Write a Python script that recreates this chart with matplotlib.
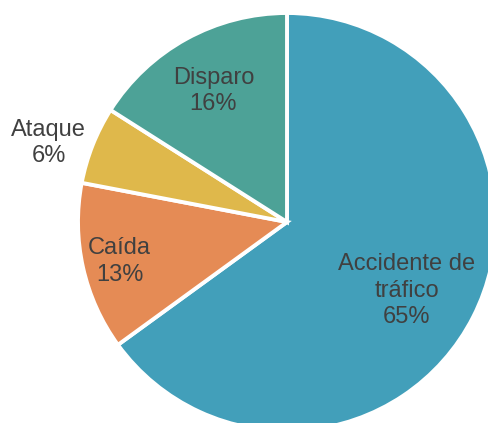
import numpy as np
import matplotlib.pyplot as plt

categories = ['Accidente de\ntráfico', 'Caída', 'Ataque', 'Disparo']
values = [65, 13, 6, 16]
colors = ['#429FBA', '#E58B55', '#DFB84B', '#4DA297']

# label placement: fraction of radius along the wedge mid-angle, plus a small nudge in px
label_dist = [0.66, 0.82, 1.21, 0.73]
label_nudge = [(-3, -6), (0, -2), (-3, -14), (0, -3)]

plt.rcParams['font.family'] = ['Liberation Sans', 'DejaVu Sans']

fig = plt.figure(figsize=(4.89, 4.23), dpi=100)
ax = fig.add_axes([0, 0, 1, 1])

cx, cy, r = 287, 201, 209
wedges, _ = ax.pie(values, colors=colors, startangle=90, counterclock=False,
                   center=(cx, cy), radius=r,
                   wedgeprops=dict(edgecolor='white', linewidth=2.8))

for w, name, v, d, (nx, ny) in zip(wedges, categories, values, label_dist, label_nudge):
    ang = np.deg2rad((w.theta1 + w.theta2) / 2)
    x = cx + d * r * np.cos(ang) + nx
    y = cy + d * r * np.sin(ang) + ny
    ax.text(x, y, f'{name}\n{v}%', ha='center', va='center', fontsize=17,
            color='#404040', linespacing=1.25)

ax.set_xlim(0, 489)
ax.set_ylim(0, 423)
ax.set_aspect('equal')
ax.axis('off')

fig.savefig('out.png', dpi=100)
